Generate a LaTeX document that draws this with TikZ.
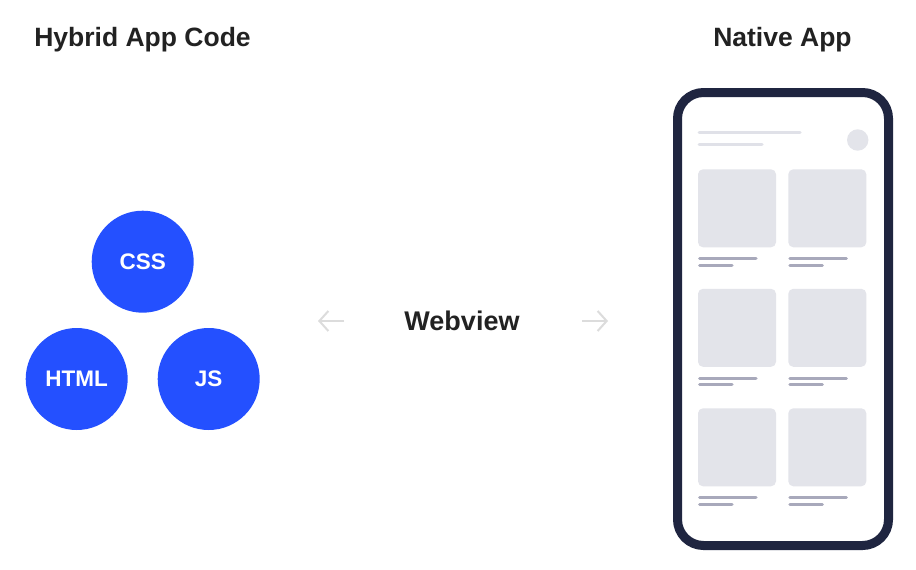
\documentclass[tikz,border=0pt]{standalone}
\usepackage{fontspec}
\setmainfont{Liberation Sans}
\usetikzlibrary{arrows.meta}
\definecolor{blueC}{HTML}{2450FF}
\definecolor{darkT}{HTML}{222222}
\definecolor{frame}{HTML}{1F2540}
\definecolor{cardF}{HTML}{E3E4EA}
\definecolor{lineA}{HTML}{E0E1E8}
\definecolor{lineB}{HTML}{A8A9BB}
\definecolor{arrowC}{HTML}{DCDCDC}
\tikzset{
  title/.style={text=darkT, font=\fontsize{26.5}{30}\selectfont\bfseries, inner sep=0pt, anchor=base},
  tech/.style={circle, fill=blueC, minimum size=102pt, inner sep=0pt, text=white, font=\fontsize{22.5}{26}\selectfont\bfseries},
  card/.style={fill=cardF, rounded corners=5pt},
  bar/.style={draw=lineB, line width=3pt, line cap=round},
  faint/.style={draw=arrowC, line width=2pt, -{Straight Barb[length=9pt,width=20pt,line width=2pt]}},
}
\begin{document}
\begin{tikzpicture}[x=1pt,y=-1pt]
\useasboundingbox (0,0) rectangle (916,570);
\fill[white] (0,0) rectangle (916,570);
\node[title] (t1) at (142.5,46.5) {Hybrid App Code};
\node[title] (t2) at (782.5,46.5) {Native App};
\node[tech] (css) at (142.7,261.7) {CSS};
\node[tech] (html) at (76.7,379) {HTML};
\node[tech] (js) at (208.7,379) {JS};
\node[title, font=\fontsize{27}{30}\selectfont\bfseries] (wv) at (462,330.5) {Webview};
\coordinate (la) at (318,321);
\coordinate (ra) at (608,321);
\coordinate (lb) at (344,321);
\coordinate (rb) at (582,321);
\draw[faint] (lb) -- (la);
\draw[faint] (rb) -- (ra);
% phone
\draw[frame, line width=9pt, fill=white, rounded corners=26pt] (677.5,92.5) rectangle (888.5,545.5);
\draw[lineA, line width=3pt, line cap=round] (699,132.7) -- (800,132.7);
\draw[lineA, line width=3pt, line cap=round] (699,144.3) -- (762,144.3);
\fill[cardF] (857.7,140) circle (10.7);
\foreach \r in {0,1,2}{
  \foreach \c in {0,1}{
    \pgfmathsetmacro{\xx}{698+90.3*\c}
    \pgfmathsetmacro{\yy}{169.3+119.5*\r}
    \fill[card] (\xx,\yy) rectangle ++(78,78);
    \draw[bar] (\xx+1.5,\yy+89.4) -- ++(56.5,0);
    \draw[bar] (\xx+1.5,\yy+96) -- ++(32.5,0);
  }
}
\end{tikzpicture}
\end{document}
